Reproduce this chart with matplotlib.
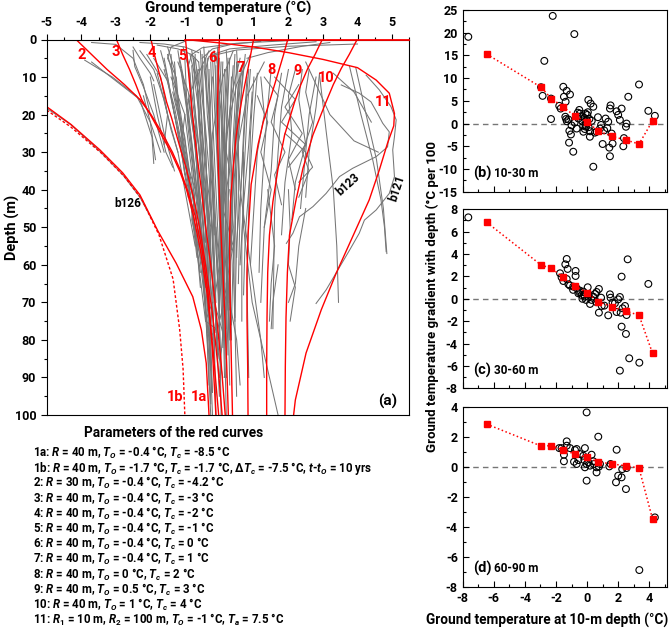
import matplotlib
matplotlib.use("Agg")
import matplotlib.pyplot as plt
from matplotlib.ticker import MultipleLocator

plt.rcParams['font.family'] = ['Roboto', 'DejaVu Sans']
plt.rcParams['font.weight'] = 'bold'
plt.rcParams['axes.unicode_minus'] = False
plt.rcParams['mathtext.fontset'] = 'custom'
plt.rcParams['mathtext.it'] = 'Roboto:italic:bold'
plt.rcParams['mathtext.rm'] = 'Roboto:bold'
plt.rcParams['mathtext.bf'] = 'Roboto:bold'

RED = '#ff0000'
GRAY = '#767676'

# ---- panel (a): red model curves (temperature, depth) ----
c1a_T = [-5.0, -4.3, -3.46, -2.8, -2.3, -1.78, -1.25, -0.77, -0.52, -0.38, -0.30]
c1a_d = [17.9, 22.6, 29.4, 35.5, 41.4, 51.0, 59.6, 68.5, 77.4, 86.2, 100]
c1b_T = [-5.0, -4.3, -3.4, -2.75, -2.25, -1.75, -1.34, -1.15, -1.05, -1.0]
c1b_d = [18.8, 23.3, 30.4, 36.5, 42.5, 52.0, 63.8, 77.2, 87.8, 100]
c2_T = [-4.15, -3.7, -3.25, -2.75, -2.3, -1.98, -1.65, -1.36, -1.12, -0.93, -0.7, -0.5, -0.32, -0.2, -0.1]
c2_d = [0, 4, 8, 12, 16, 20, 25, 30, 35, 40, 47, 56, 68, 83, 100]
c3_T = [-2.98, -2.8, -2.6, -2.42, -2.25, -2.0, -1.7, -1.4, -1.15, -0.95, -0.75, -0.55, -0.35, -0.18, -0.02]
c3_d = [0, 4, 8, 12, 16, 20, 25, 30, 35, 40, 47, 56, 68, 83, 100]
c4_T = [-1.98, -1.88, -1.77, -1.65, -1.53, -1.38, -1.24, -1.1, -0.96, -0.72, -0.55, -0.4, -0.2, -0.03, 0.08]
c4_d = [0, 4, 8, 12, 16.6, 21, 25.5, 30, 34.3, 43.2, 51.2, 60, 73, 88, 100]
c5_T = [-0.98, -0.93, -0.88, -0.83, -0.78, -0.72, -0.66, -0.52, -0.38, -0.25, -0.1, 0.05, 0.17]
c5_d = [0, 5, 10, 15, 20, 25, 30, 40, 51, 60, 72, 86, 100]
c6_T = [0.0, -0.03, -0.05, -0.05, -0.03, 0.02, 0.08, 0.15, 0.21, 0.26]
c6_d = [0, 8, 16, 24, 34, 46, 58, 72, 86, 100]
c7_T = [0.99, 0.83, 0.64, 0.49, 0.40, 0.32, 0.30, 0.30, 0.32, 0.35, 0.38]
c7_d = [0, 7.7, 16.6, 25.4, 34.3, 43.2, 52.1, 62, 74, 87, 100]
c8_T = [1.98, 1.86, 1.74, 1.6, 1.45, 1.27, 1.12, 0.92, 0.83, 0.8, 0.8, 0.82, 0.83]
c8_d = [0, 4, 7.7, 12, 16.6, 22, 28, 38.6, 52.1, 62, 74, 87, 100]
c9_T = [2.98, 2.77, 2.56, 2.36, 2.18, 1.89, 1.70, 1.55, 1.45, 1.4, 1.38, 1.37, 1.37]
c9_d = [0, 4, 7.7, 12, 16.6, 25.4, 34.3, 43.2, 52.1, 62, 74, 87, 100]
c10_T = [3.99, 3.76, 3.53, 3.3, 3.09, 2.71, 2.42, 2.21, 2.03, 1.97, 1.93, 1.91, 1.9]
c10_d = [0, 4, 7.7, 12, 16.6, 25.4, 34.3, 43.2, 52.1, 62, 74, 87, 100]
c11_T = [-1.0, 0.0, 1.0, 2.0, 3.0, 4.0, 4.54, 4.92, 5.07, 5.05, 4.87, 4.63, 4.34, 3.86, 3.38, 2.95, 2.51, 2.2, 2.15]
c11_d = [0, 0.9, 2.0, 3.5, 5.3, 7.5, 10.8, 14.3, 19.7, 23, 27.6, 34.8, 42.7, 52.5, 62.3, 72, 83.5, 96, 100]
surface_T = [-1.0, 5.5]

curve_labels = ['2', '3', '4', '5', '6', '7', '8', '9', '10', '11']
curve_label_T = [-3.99, -3.0, -1.97, -1.07, -0.2, 0.62, 1.5, 2.27, 3.1, 4.73]
curve_label_d = [4.2, 3.3, 3.7, 4.4, 4.8, 7.7, 8.1, 8.4, 10.2, 16.6]

# ---- panel (a): borehole profiles (gray) ----
cold_profiles = [
    ([-3.7, -3.0, -2.3, -1.95, -1.9], [6, 11, 16, 26, 33]),
    ([-3.9, -3.1, -2.4, -2.0, -1.7], [5.5, 10, 15, 22, 30]),
    ([-3.7, -3.0, -2.5, -2.2, -2.0], [0.8, 1.3, 5, 12, 20]),
    ([-2.5, -2.45, -2.2, -1.9, -1.6], [2.9, 7.2, 12.6, 20, 30]),
    ([-2.5, -2.3, -2.0, -1.9], [2, 5, 9, 11]),
    ([-2.2, -2.0, -1.85], [15, 22, 32]),
    ([-2.0, -1.8, -1.55, -1.35], [10, 20, 30, 34]),
    ([-5.0, -4.3, -3.46, -2.8, -2.3, -1.95], [18.3, 22.7, 29.8, 36.0, 42.0, 48.0]),
    ([-2.3, -1.9, -1.6, -1.4, -1.2], [3, 8, 16, 24, 30]),
    ([-2.1, -1.7, -1.5, -1.6], [4, 10, 20, 28]),
    ([-1.9, -1.5, -1.35, -1.1, -1.0], [5, 11, 18, 28, 36]),
]
cluster_profiles = [
    ([-1.6, -1.4, -1.1, -0.8, -0.6, -0.4], [5, 15, 30, 45, 60, 75]),
    ([-1.5, -1.2, -0.95, -0.7, -0.5, -0.35, -0.25], [4, 15, 30, 45, 60, 80, 100]),
    ([-1.3, -1.2, -1.0, -0.75, -0.55], [6, 18, 32, 48, 62]),
    ([-1.2, -1.05, -0.8, -0.6, -0.45, -0.3], [3, 12, 28, 45, 65, 85]),
    ([-1.1, -0.9, -0.75, -0.55, -0.4, -0.3], [8, 20, 35, 50, 70, 92]),
    ([-1.0, -0.95, -0.7, -0.5, -0.35], [5, 15, 35, 55, 78]),
    ([-0.9, -0.8, -0.65, -0.45, -0.3, -0.2], [6, 18, 33, 52, 75, 100]),
    ([-0.85, -0.6, -0.55, -0.4, -0.3], [4, 14, 30, 50, 70]),
    ([-0.8, -0.7, -0.5, -0.35, -0.25, -0.2], [7, 20, 38, 55, 80, 94]),
    ([-0.7, -0.55, -0.45, -0.3, -0.2], [5, 15, 30, 55, 80]),
    ([-0.65, -0.6, -0.4, -0.3, -0.15, -0.1], [8, 22, 40, 58, 78, 100]),
    ([-0.6, -0.45, -0.35, -0.25], [6, 20, 40, 62]),
    ([-0.5, -0.45, -0.3, -0.2, -0.1, 0.0], [4, 18, 35, 55, 75, 95]),
    ([-0.45, -0.3, -0.25, -0.15, -0.05], [7, 20, 40, 62, 85]),
    ([-0.4, -0.35, -0.2, -0.1, 0.0, 0.05], [5, 15, 30, 50, 70, 100]),
    ([-0.3, -0.25, -0.15, -0.05, 0.05], [8, 25, 45, 65, 88]),
    ([-0.25, -0.2, -0.1, 0.0, 0.1], [6, 20, 40, 60, 80]),
    ([-0.2, -0.15, -0.05, 0.05, 0.1], [4, 16, 35, 60, 76]),
    ([-0.1, -0.1, 0.0, 0.1, 0.15, 0.2], [7, 22, 40, 60, 80, 100]),
    ([0.0, -0.05, 0.05, 0.1, 0.2], [5, 18, 38, 58, 77]),
    ([0.1, 0.05, 0.1, 0.15, 0.2], [6, 20, 40, 60, 85]),
    ([0.2, 0.15, 0.15, 0.2, 0.25], [8, 20, 35, 55, 72]),
    ([0.3, 0.25, 0.2, 0.2, 0.25, 0.3], [5, 15, 30, 50, 70, 92]),
    ([0.4, 0.3, 0.25, 0.25, 0.3], [7, 20, 40, 60, 80]),
    ([0.5, 0.45, 0.35, 0.3, 0.3], [6, 18, 35, 55, 70]),
    ([0.6, 0.5, 0.45, 0.4, 0.35], [9, 22, 40, 58, 76]),
    ([0.7, 0.6, 0.5, 0.45, 0.45, 0.5], [6, 18, 35, 55, 75, 95]),
    ([0.8, 0.7, 0.6, 0.55], [10, 25, 45, 65]),
    ([0.9, 0.8, 0.7, 0.65, 0.65], [8, 20, 38, 55, 75]),
    ([1.0, 0.9, 0.85, 0.8, 0.85], [10, 25, 45, 65, 90]),
    ([-1.4, -1.0, -1.1, -0.7, -0.8, -0.5], [10, 20, 28, 40, 48, 60]),
    ([-0.6, -0.9, -0.6, -0.4, -0.5, -0.3], [8, 16, 28, 42, 55, 70]),
    ([0.4, 0.1, -0.2, -0.3, -0.2, 0.0], [3, 10, 25, 45, 65, 85]),
    ([0.9, 0.5, 0.2, 0.1, 0.0], [4, 12, 25, 45, 70]),
    ([1.3, 0.8, 0.5, 0.3, 0.2, 0.2], [6, 15, 30, 50, 70, 90]),
    ([-0.3, -0.6, -0.5, -0.2, -0.1], [3, 9, 25, 50, 78]),
    ([-1.8, -1.5, -1.2, -1.0, -0.7], [9, 20, 30, 40, 55]),
    ([-1.9, -1.6, -1.3], [12, 25, 35]),
    ([-1.0, -0.8, -0.6, -0.3, -0.25], [20, 35, 55, 80, 97]),
    ([0.1, 0.3, 0.1, 0.4, 0.2, 0.3], [25, 35, 45, 55, 65, 78]),
    ([0.0, 0.2, 0.0, -0.1, 0.1], [60, 68, 75, 80, 90]),
    ([-0.2, -0.4, -0.1, -0.3, -0.2], [70, 75, 77, 80, 94]),
    ([0.5, 0.6, 0.9, 1.2, 1.3], [20, 40, 60, 80, 90]),
    ([0.7, 0.7, 0.95, 1.4, 1.7], [30, 50, 70, 88, 100]),
    ([-1.2, -0.9, -0.7, -0.55, -0.4], [6, 14, 28, 46, 66]),
    ([-0.75, -0.7, -0.5, -0.45, -0.3, -0.25], [5, 12, 26, 44, 64, 88]),
    ([-0.1, 0.05, 0.15, 0.05, 0.15], [4, 14, 30, 48, 66]),
    ([0.6, 0.35, 0.15, 0.1, 0.1], [5, 15, 32, 52, 82]),
    ([-1.7, -1.5, -1.3, -1.1, -0.9], [3, 10, 20, 30, 42]),
    ([-1.4, -1.35, -1.15, -0.95, -0.7, -0.55], [4, 12, 22, 35, 50, 66]),
    ([-1.15, -1.0, -0.9, -0.7, -0.5], [5, 12, 24, 40, 58]),
    ([-0.95, -0.85, -0.7, -0.6, -0.4, -0.3], [3, 10, 22, 38, 56, 74]),
    ([-0.55, -0.5, -0.4, -0.35, -0.2, -0.15], [3, 12, 26, 44, 64, 86]),
    ([-0.35, -0.3, -0.25, -0.1, 0.0], [5, 15, 35, 55, 72]),
    ([-0.15, -0.1, -0.05, 0.0, 0.1, 0.15], [3, 12, 28, 48, 70, 90]),
    ([0.05, 0.0, 0.0, 0.05, 0.1], [6, 16, 32, 52, 70]),
    ([0.25, 0.2, 0.1, 0.1, 0.15], [5, 15, 30, 50, 68]),
    ([0.45, 0.4, 0.3, 0.25, 0.2, 0.25], [4, 14, 28, 46, 66, 84]),
    ([0.65, 0.55, 0.4, 0.35, 0.3], [7, 18, 34, 52, 72]),
    ([0.85, 0.75, 0.65, 0.5, 0.45], [8, 20, 36, 54, 74]),
    ([1.1, 1.0, 0.9, 0.75, 0.7], [9, 20, 34, 52, 68]),
    ([-1.6, -1.3, -1.05, -0.85], [8, 18, 30, 40]),
    ([-1.25, -1.15, -0.95, -0.8, -0.65], [10, 20, 32, 46, 58]),
    ([-0.7, -0.75, -0.6, -0.5, -0.45, -0.35], [4, 14, 28, 40, 56, 72]),
    ([-0.2, -0.3, -0.2, -0.15, -0.1], [10, 22, 38, 56, 70]),
    ([0.15, 0.1, 0.05, 0.0, 0.0], [8, 22, 40, 60, 82]),
    ([0.35, 0.3, 0.35, 0.3, 0.35], [10, 24, 40, 58, 80]),
    ([0.55, 0.45, 0.5, 0.4, 0.45], [12, 26, 42, 60, 75]),
    ([-0.4, -0.25, -0.3, -0.35, -0.3], [40, 50, 60, 70, 80]),
    ([0.3, 0.4, 0.2, 0.3, 0.5, 0.6], [40, 50, 60, 70, 80, 92]),
    ([-0.1, 0.0, -0.15, 0.1, 0.0], [50, 60, 70, 78, 90]),
    ([-1.5, -1.3, -1.25, -1.0, -0.85, -0.6], [2, 8, 16, 26, 38, 52]),
    ([-1.05, -0.85, -0.8, -0.65, -0.55], [2, 9, 20, 34, 48]),
    ([-0.8, -0.65, -0.55, -0.45, -0.4], [3, 11, 24, 38, 54]),
    ([-0.45, -0.4, -0.35, -0.2, -0.15], [2, 10, 20, 36, 52]),
    ([-0.05, -0.05, 0.0, 0.05, 0.05], [2, 10, 24, 40, 58]),
    ([0.2, 0.25, 0.2, 0.15, 0.2], [3, 11, 24, 40, 60]),
    ([0.5, 0.55, 0.45, 0.4, 0.35], [3, 12, 24, 40, 56]),
    ([0.75, 0.65, 0.55, 0.55, 0.5], [4, 13, 26, 42, 58]),
    ([-1.35, -1.1, -0.95, -0.8, -0.6], [14, 24, 34, 44, 56]),
    ([-0.9, -0.7, -0.6, -0.45], [16, 28, 42, 60]),
    ([0.0, 0.1, 0.2, 0.15, 0.25], [14, 26, 40, 55, 70]),
    ([0.95, 0.85, 0.7, 0.6], [14, 28, 44, 60]),
]
warm_profiles = [
    ([1.2, 1.3, 1.1, 1.0, 0.9], [10, 20, 30, 45, 60]),
    ([1.5, 1.4, 1.3, 1.2, 1.15], [8, 18, 30, 45, 62]),
    ([1.8, 1.6, 1.5, 1.3, 1.2], [9, 20, 35, 50, 70]),
    ([2.0, 1.8, 1.7, 1.6, 1.55], [8, 18, 30, 45, 77]),
    ([2.2, 2.0, 2.1, 1.9, 1.8], [8, 15, 25, 38, 52]),
    ([2.4, 2.3, 2.5, 2.2, 2.1], [8, 16, 28, 38, 48]),
    ([2.6, 2.5, 2.7, 2.4, 2.6, 2.3], [8, 14, 22, 30, 35, 42]),
    ([1.6, 2.2, 1.8, 2.5, 2.0], [10, 16, 22, 28, 34]),
    ([2.3, 1.9, 2.4, 2.0, 2.2], [12, 18, 25, 32, 40]),
    ([1.3, 1.7, 1.5, 1.9, 1.6, 1.8], [10, 15, 22, 30, 36, 44]),
    ([2.8, 2.6, 2.5, 2.35], [10, 20, 30, 45]),
    ([1.1, 1.4, 1.2, 1.5, 1.3], [15, 22, 30, 40, 50]),
    ([1.9, 2.5, 2.7, 2.3], [25, 30, 34, 38]),
    ([2.0, 2.05, 2.0, 2.2, 2.05], [40, 50, 60, 66, 75]),
    ([2.5, 2.3, 2.2, 2.0], [45, 55, 65, 70]),
    ([1.4, 1.6, 1.5, 1.45], [40, 55, 65, 75]),
    ([1.7, 1.55, 1.5], [60, 70, 77]),
    ([2.9, 2.8, 2.6, 2.5], [9, 18, 30, 42]),
]
surface_profiles = [
    ([4.0, 2.0, 0.5, -0.3, -0.4], [1.2, 1.8, 2.8, 4.5, 8]),
    ([2.8, 1.5, 0.3, -0.2], [0.6, 1.5, 2.5, 4]),
    ([2.0, 0.5, -0.5, -0.8, -0.9], [0.3, 1.0, 2.2, 4, 7]),
    ([-2.3, -1.6, -1.0, -0.6], [0.8, 1.2, 2.0, 3.5]),
    ([-1.8, -1.2, -0.8, -0.6], [1.5, 2.5, 4, 6]),
    ([1.2, 0.4, -0.2, -0.5], [0.5, 1.2, 2.5, 5]),
    ([3.2, 2.4, 1.4, 0.8], [0.8, 1.8, 3.5, 5]),
    ([-1.0, -1.4, -1.5, -1.3], [0.5, 2, 5, 9]),
]
right_profiles = [
    ([4.25, 4.63, 4.97, 5.12, 5.07, 5.02, 5.07, 4.92, 4.54, 4.2, 4.05, 3.77, 3.43, 3.09, 2.8],
     [9.5, 13.4, 17.9, 21.4, 25.9, 29.4, 36.5, 41, 45.4, 48.1, 51.6, 56.1, 61.4, 66.7, 70.3]),  # b121
    ([3.53, 4.05, 4.39, 4.58, 4.73, 4.92, 4.87, 4.54, 3.86, 3.48, 3.09, 2.71, 2.32, 2.13, 1.94],
     [12.1, 14.3, 16.6, 19.7, 22.3, 24.6, 28.6, 31.2, 34.3, 36.5, 41, 44.5, 47.2, 51.6, 54.3]),  # b123
    ([3.77, 4.1, 4.44, 4.68, 4.78, 4.83], [7.2, 20, 32, 42.7, 49.9, 56.5]),
    ([3.95, 4.25, 4.55, 4.75, 4.85], [7.5, 20, 32, 45, 57]),
    ([2.9, 3.1, 3.3, 3.4, 3.45], [9.5, 25, 40, 55, 70]),
    ([2.5, 3.2, 3.9, 4.6], [6, 20, 27, 30]),
    ([3.3, 3.9, 4.4], [9, 14, 22]),
]

# ---- panels (b)-(d): gradients vs 10-m temperature ----
bin_T = [-6.46, -2.96, -2.3, -1.53, -0.78, -0.03, 0.72, 1.58, 2.48, 3.34, 4.21]
bin_grad_b = [15.3, 8.0, 5.5, 3.7, 1.6, 0.4, -1.6, -2.8, -3.6, -4.5, 0.6]
bin_grad_c = [6.84, 3.02, 2.72, 1.92, 1.17, 0.55, -0.26, -0.7, -1.09, -1.47, -4.87]
bin_grad_d = [2.84, 1.38, 1.4, 1.11, 0.84, 0.62, 0.33, 0.18, 0.07, -0.09, -3.49]

pts_b_T = [-7.64, -2.21, -0.82, -2.75, -2.96, -2.86, -2.32, -2.32, -1.53, -1.49, -1.31, -1.1,
           -1.79, -1.7, -1.38, -1.4, -1.35, -1.3, -1.14, -1.16, -1.04, -0.89, -0.67, -0.56,
           -0.46, -0.24, -0.07, -0.03, 0.01, 0.08, 0.23, 0.4, 0.18, 0.4, 0.61, 0.83, 1.0,
           1.19, 1.36, 1.47, 1.51, 1.43, 1.47, 1.58, 1.64, 1.9, 2.0, 2.11, 2.22, 2.33, 2.37,
           2.5, 2.54, 2.65, 3.34, 3.94, 4.36, -0.3, -0.2, -0.1, 0.0, 0.1, -0.35, -0.15, 0.05,
           -0.25, 0.15, -0.6, -0.8, -1.0, 0.3, 0.5, 0.7, 0.9, -1.2, -0.5, 1.1, 1.3, -0.1, 0.2]
pts_b_grad = [19.1, 23.7, 19.7, 13.8, 8.0, 6.1, 5.5, 1.0, 8.1, 5.9, 7.2, 6.4,
              3.9, 3.3, 4.8, 1.5, 1.0, 0.5, -1.6, -4.2, -2.4, -6.2, -1.1, 1.1,
              2.2, -1.8, -0.7, 0.8, 1.9, 5.2, 4.4, 3.7, -2.9, -9.5, -1.8, -1.1, -4.5,
              1.1, 0.4, 3.3, 4.0, -5.3, -7.2, -2.2, -4.4, 2.7, 1.9, 0.8, 3.3, -5.0, -3.2,
              -0.7, 0.0, 5.9, 8.6, 2.8, 1.7, 0.5, 1.2, -0.3, 0.2, -0.8, 1.6, -1.2, 2.5,
              -0.5, 1.0, 2.4, 0.2, -0.4, 0.6, -2.0, 1.4, -0.3, 0.9, 3.0, -1.5, -1.0, 2.2, -1.7]

pts_c_T = [-7.64, -1.31, -1.4, -1.25, -0.74, -0.74, -1.74, -1.64, -1.53, -1.31, -1.1, -0.89,
           -0.67, -0.56, -0.46, -0.35, -0.24, -0.14, -0.07, 0.04, 0.08, 0.19, 0.29, 0.4, 0.51,
           0.61, 0.76, 0.76, 0.94, 1.11, 1.36, 1.47, 1.51, 1.64, 1.79, 1.9, 2.0, 2.11, 2.16,
           2.22, 2.22, 2.28, 2.44, 2.5, 2.54, 2.61, 2.71, 2.11, 3.36, 3.94, -0.5, -0.2, 0.1,
           -0.3, -0.9, -1.2, 0.6, 0.9]
pts_c_grad = [7.28, 3.56, 3.08, 2.67, 2.49, 2.04, 2.28, 1.92, 1.59, 1.77, 1.18, 1.09,
              0.94, 0.49, 0.73, 0.34, 0.64, 0.19, -0.1, 1.03, 0.19, -0.46, -0.1, 0.19, 0.43,
              0.61, 0.88, -1.24, -0.64, -0.61, -1.48, 0.4, 0.1, -0.34, -0.4, -1.18, -0.05, 0.16, -1.24,
              -2.49, 1.98, -0.85, -0.64, -3.14, -1.45, 3.53, -5.32, -6.42, -5.71, 1.33, 0.6, 0.35, 0.4,
              0.0, 0.8, 1.3, -0.3, 0.1]

pts_d_T = [-0.03, -1.79, -1.64, -1.49, -1.31, -1.31, -1.49, -1.1, -0.78, -0.67, -0.84, -0.67,
           -0.56, -0.46, -0.24, -0.14, -0.18, -0.14, -0.03, 0.08, 0.19, 0.29, 0.4, 0.44, 0.61,
           0.61, 0.72, 0.76, 0.83, -0.03, 1.43, 1.51, 1.9, 1.86, 2.0, 2.22, 2.26, 2.5, 2.54,
           4.36, 3.36]
pts_d_grad = [3.62, 1.24, 1.24, 0.8, 1.69, 1.4, 0.36, 1.24, 1.11, 1.18, 0.33, 0.18,
              0.44, 0.84, 0.73, 1.24, 0.44, -0.04, 0.18, 0.29, 0.07, 0.8, 0.36, 0.18, -0.38,
              -0.04, 2.0, 0.0, 0.18, -0.93, 0.02, 0.18, 1.13, -1.04, -0.6, -0.71, -0.16, -1.49, -0.09,
              -3.38, -6.89]

param_lines = [
    r'1a: $R$ = 40 m, $T_O$ = -0.4 °C, $T_c$ = -8.5 °C',
    r'1b: $R$ = 40 m, $T_O$ = -1.7 °C, $T_c$ = -1.7 °C, $\Delta T_c$ = -7.5 °C, $t$-$t_O$ = 10 yrs',
    r'2: $R$ = 30 m, $T_O$ = -0.4 °C, $T_c$ = -4.2 °C',
    r'3: $R$ = 40 m, $T_O$ = -0.4 °C, $T_c$ = -3 °C',
    r'4: $R$ = 40 m, $T_O$ = -0.4 °C, $T_c$ = -2 °C',
    r'5: $R$ = 40 m, $T_O$ = -0.4 °C, $T_c$ = -1 °C',
    r'6: $R$ = 40 m, $T_O$ = -0.4 °C, $T_c$ = 0 °C',
    r'7: $R$ = 40 m, $T_O$ = -0.4 °C, $T_c$ = 1 °C',
    r'8: $R$ = 40 m, $T_O$ = 0 °C, $T_c$ = 2 °C',
    r'9: $R$ = 40 m, $T_O$ = 0.5 °C, $T_c$ = 3 °C',
    r'10: $R$ = 40 m, $T_O$ = 1 °C, $T_c$ = 4 °C',
    r'11: $R_1$ = 10 m, $R_2$ = 100 m, $T_O$ = -1 °C, $T_a$ = 7.5 °C',
]

W, H = 669, 634
fig = plt.figure(figsize=(W / 100, H / 100), dpi=100)

def box(x0, y0, x1, y1):
    # pixel box (top-left origin) -> figure fraction rect
    return [x0 / W, 1 - y1 / H, (x1 - x0) / W, (y1 - y0) / H]

# ================= panel (a) =================
ax = fig.add_axes(box(46.7, 39.5, 409.3, 415))
for T, d in cold_profiles + cluster_profiles + warm_profiles + surface_profiles + right_profiles:
    ax.plot(T, d, color=GRAY, lw=0.75, zorder=1)

red_curves = [(c1a_T, c1a_d), (c2_T, c2_d), (c3_T, c3_d), (c4_T, c4_d), (c5_T, c5_d),
              (c6_T, c6_d), (c7_T, c7_d), (c8_T, c8_d), (c9_T, c9_d), (c10_T, c10_d),
              (c11_T, c11_d)]
for T, d in red_curves:
    ax.plot(T, d, color=RED, lw=1.0, zorder=2)
ax.plot(c1b_T, c1b_d, color=RED, lw=1.0, ls=(0, (2, 1.5)), zorder=2)
ax.plot(surface_T, [0, 0], color=RED, lw=1.3, zorder=4, clip_on=False)

for lab, T, d in zip(curve_labels, curve_label_T, curve_label_d):
    ax.text(T, d, lab, color=RED, fontsize=10.5, fontweight='bold', ha='center', va='center')
ax.text(-1.29, 95.3, '1b', color=RED, fontsize=10.5, fontweight='bold', ha='center', va='center')
ax.text(-0.59, 95.3, '1a', color=RED, fontsize=10.5, fontweight='bold', ha='center', va='center')
ax.text(4.87, 96.3, '(a)', fontsize=11, fontweight='bold', ha='center', va='center')
ax.text(-2.65, 43.6, 'b126', fontsize=8.5, fontweight='bold', ha='center', va='center')
ax.text(3.72, 38.6, 'b123', fontsize=8.5, fontweight='bold', ha='center', va='center', rotation=42)
ax.text(5.14, 39.6, 'b121', fontsize=8.5, fontweight='bold', ha='center', va='center', rotation=72)

ax.set_xlim(-5, 5.5)
ax.set_ylim(100, 0)
ax.xaxis.tick_top()
ax.set_xticks(range(-5, 6))
ax.xaxis.set_minor_locator(MultipleLocator(0.5))
ax.yaxis.set_major_locator(MultipleLocator(10))
ax.yaxis.set_minor_locator(MultipleLocator(5))
ax.tick_params(which='both', direction='out', labelsize=9, width=0.8)
ax.tick_params(which='major', length=4)
ax.tick_params(which='minor', length=2.5)
for lbl in ax.get_xticklabels() + ax.get_yticklabels():
    lbl.set_fontweight('bold')
ax.set_ylabel('Depth (m)', fontsize=10.5, fontweight='bold')
ax.yaxis.set_label_coords(-0.075, 0.5)
fig.text(228 / W, 1 - 8 / H, 'Ground temperature (°C)', fontsize=10.8,
         fontweight='bold', ha='center', va='center')

# parameter block under panel (a)
fig.text(174 / W, 1 - 433 / H, 'Parameters of the red curves', fontsize=9.8,
         fontweight='bold', ha='center', va='center')
for i, line in enumerate(param_lines):
    fig.text(33 / W, 1 - (453 + 15.2 * i) / H, line, fontsize=8.3, fontweight='bold',
             ha='left', va='center')

# ================= panels (b)-(d) =================
right_panels = [
    (box(462.7, 10, 667, 191.7), pts_b_T, pts_b_grad, bin_grad_b, (-15, 25), 5, 2.5, '(b)', '10-30 m'),
    (box(462.7, 209.3, 667, 388.3), pts_c_T, pts_c_grad, bin_grad_c, (-8, 8), 2, 1, '(c)', '30-60 m'),
    (box(462.7, 406.7, 667, 586.7), pts_d_T, pts_d_grad, bin_grad_d, (-8, 4), 2, 1, '(d)', '60-90 m'),
]
for k, (rect, px, py, bins, ylim, maj, mnr, tag, rng) in enumerate(right_panels):
    a = fig.add_axes(rect)
    a.axhline(0, color=GRAY, ls='--', lw=1, dashes=(4, 3), zorder=1)
    a.scatter(px, py, s=24, facecolors='none', edgecolors='black', linewidths=0.8, zorder=2)
    a.plot(bin_T, bins, color=RED, ls=':', lw=1.1, marker='s', ms=4.5, mfc=RED, mec=RED, zorder=3)
    a.set_xlim(-8, 5.14)
    a.set_ylim(*ylim)
    a.xaxis.set_major_locator(MultipleLocator(2))
    a.xaxis.set_minor_locator(MultipleLocator(1))
    a.yaxis.set_major_locator(MultipleLocator(maj))
    a.yaxis.set_minor_locator(MultipleLocator(mnr))
    a.tick_params(which='both', direction='in', labelsize=9, width=0.8)
    a.tick_params(which='major', length=4)
    a.tick_params(which='minor', length=2.5)
    if k < 2:
        a.tick_params(axis='x', labelbottom=False)
    for lbl in a.get_xticklabels() + a.get_yticklabels():
        lbl.set_fontweight('bold')
    a.text(0.05, 0.10, tag, transform=a.transAxes, fontsize=10.5, fontweight='bold',
           ha='left', va='center')
    a.text(0.155, 0.10, rng, transform=a.transAxes, fontsize=8.5, fontweight='bold',
           ha='left', va='center')

fig.text(547 / W, 1 - 620 / H, 'Ground temperature at 10-m depth (°C)', fontsize=9.8,
         fontweight='bold', ha='center', va='center')
fig.text(432 / W, 1 - 452 / H, 'Ground temperature gradient with depth (°C per 100',
         fontsize=9.5, fontweight='bold', rotation=90, ha='center', va='bottom')

fig.savefig('out.png', dpi=100)
